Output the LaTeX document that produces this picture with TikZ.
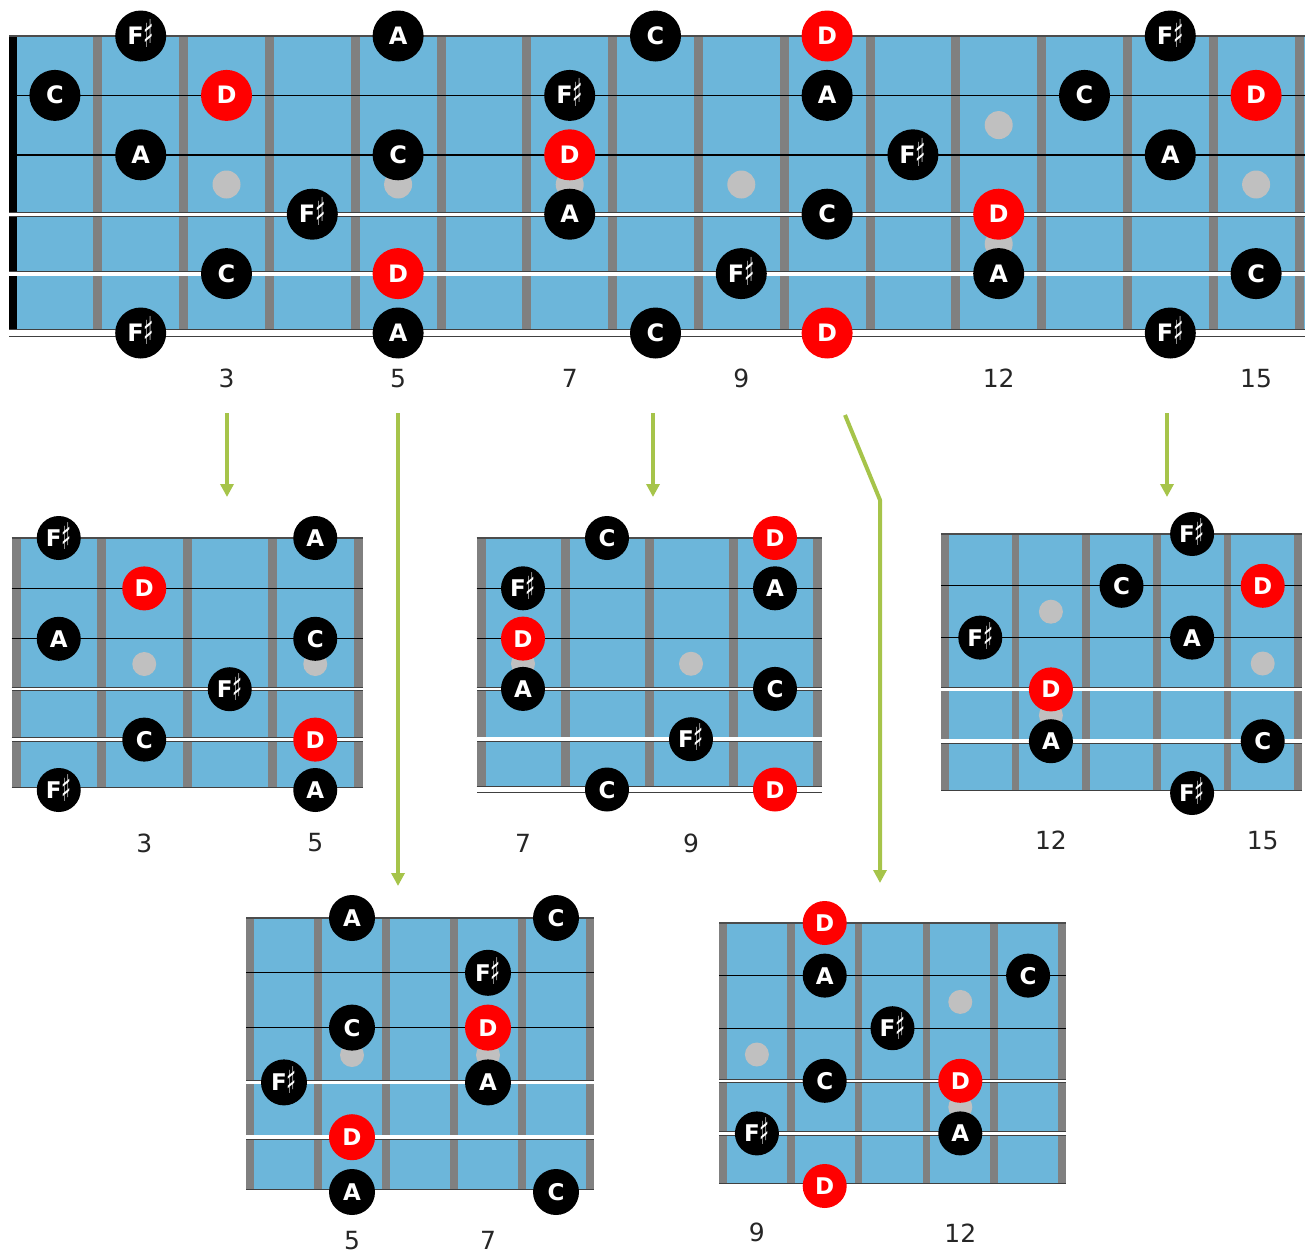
\documentclass[tikz,border=0pt]{standalone}
\usepackage{fontspec}
\setmainfont{DejaVu Sans}
\usetikzlibrary{arrows.meta}
\definecolor{NeckBlue}{RGB}{108, 182, 218}
\definecolor{FretGrey}{RGB}{128, 128, 128}
\definecolor{DotGrey}{RGB}{192, 192, 192}
\definecolor{RootRed}{RGB}{255, 0, 0}
\definecolor{ArrowGreen}{RGB}{166, 196, 74}
\newcommand{\notesharp}{\raisebox{-3pt}{\scalebox{0.9}[1.6]{♯}}}

\begin{document}
\begin{tikzpicture}[
    x=1pt, y=-1pt,
    note/.style={circle, fill=black, text=white, inner sep=0pt, minimum size=51pt, text height=17pt, text depth=0pt, font=\bfseries\fontsize{24}{24}\selectfont},
    root/.style={note, fill=RootRed},
    snote/.style={note, minimum size=44pt, font=\bfseries\fontsize{23}{23}\selectfont},
    sroot/.style={snote, fill=RootRed},
    fretnum/.style={font=\fontsize{25}{25}\selectfont, text=black!85},
    fretbar/.style={FretGrey, line width=9pt},
    plainstring/.style={line width=1.6pt},
    wound/.style={draw=black!75, double=white, line width=0.8pt},
    arrow/.style={->, >={Triangle[width=13pt, length=13pt]}, ArrowGreen, line width=4pt, line join=round}
]
\useasboundingbox (0,0) rectangle (1307,1254);

% === WHOLE NECK ===
\begin{scope}[shift={(12,36)}, x=85.8pt, y=-59.4pt]
\fill[NeckBlue] (0,0) rectangle ([xshift=6pt]15,5);
\foreach \k in {1,...,15} \draw[fretbar] (\k,0) -- (\k,5);
\foreach \f in {3,5,7,9,15} \fill[DotGrey] (\f-0.5,2.5) circle (14pt);
\fill[DotGrey] (11.5,1.5) circle (14pt) (11.5,3.5) circle (14pt);
\fill[black] ([xshift=-3pt]0,0.02) rectangle ([xshift=5pt]0,4.95);
\draw[plainstring, line width=2pt, black!70] ([xshift=-3pt]0,0) -- ([xshift=6pt]15,0);
\foreach \s in {1,2} \draw[plainstring] ([xshift=-3pt]0,\s) -- ([xshift=6pt]15,\s);
\foreach \s/\w in {3/3pt, 4/4pt, 5/5.5pt} \draw[wound, double distance=\w] ([xshift=-3pt]0,\s) -- ([xshift=6pt]15,\s);
\foreach \s/\f/\n/\st in {0/2/F\notesharp/note, 0/5/A/note, 0/8/C/note, 0/10/D/root, 0/14/F\notesharp/note,
    1/1/C/note, 1/3/D/root, 1/7/F\notesharp/note, 1/10/A/note, 1/13/C/note, 1/15/D/root,
    2/2/A/note, 2/5/C/note, 2/7/D/root, 2/11/F\notesharp/note, 2/14/A/note,
    3/4/F\notesharp/note, 3/7/A/note, 3/10/C/note, 3/12/D/root,
    4/3/C/note, 4/5/D/root, 4/9/F\notesharp/note, 4/12/A/note, 4/15/C/note,
    5/2/F\notesharp/note, 5/5/A/note, 5/8/C/note, 5/10/D/root, 5/14/F\notesharp/note}
    \node[\st] (T-\s-\f) at (\f-0.5,\s) {\n};
\foreach \f in {3,5,7,9,12,15} \node[fretnum] (T-n\f) at (\f-0.5,5.76) {\f};
\end{scope}

% === POSITION 2-5 ===
\begin{scope}[shift={(16,538)}, x=85.5pt, y=-50.4pt]
\fill[NeckBlue] (0,0) rectangle (4,5);
\foreach \k in {0,...,4} \draw[fretbar] (\k,0) -- (\k,5);
\foreach \f in {3,5} \fill[DotGrey] (\f-1.5,2.5) circle (12pt);
\draw[plainstring, black!70] ([xshift=-4.5pt]0,0) -- ([xshift=4.5pt]4,0);
\foreach \s in {1,2} \draw[plainstring, line width=1.3pt] ([xshift=-4.5pt]0,\s) -- ([xshift=4.5pt]4,\s);
\foreach \s/\w in {3/2.5pt, 4/3.5pt, 5/5pt} \draw[wound, double distance=\w] ([xshift=-4.5pt]0,\s) -- ([xshift=4.5pt]4,\s);
\foreach \s/\f/\n/\st in {0/2/F\notesharp/snote, 0/5/A/snote, 1/3/D/sroot, 2/2/A/snote, 2/5/C/snote,
    3/4/F\notesharp/snote, 4/3/C/snote, 4/5/D/sroot, 5/2/F\notesharp/snote, 5/5/A/snote}
    \node[\st] (A-\s-\f) at (\f-1.5,\s) {\n};
\foreach \f in {3,5} \node[fretnum] (A-n\f) at (\f-1.5,6.05) {\f};
\end{scope}

% === POSITION 7-10 ===
\begin{scope}[shift={(481,538)}, x=84pt, y=-50.3pt]
\fill[NeckBlue] (0,0) rectangle (4,5);
\foreach \k in {0,...,4} \draw[fretbar] (\k,0) -- (\k,5);
\foreach \f in {7,9} \fill[DotGrey] (\f-6.5,2.5) circle (12pt);
\draw[plainstring, black!70] ([xshift=-4.5pt]0,0) -- ([xshift=4.5pt]4,0);
\foreach \s in {1,2} \draw[plainstring, line width=1.3pt] ([xshift=-4.5pt]0,\s) -- ([xshift=4.5pt]4,\s);
\foreach \s/\w in {3/2.5pt, 4/3.5pt, 5/5pt} \draw[wound, double distance=\w] ([xshift=-4.5pt]0,\s) -- ([xshift=4.5pt]4,\s);
\foreach \s/\f/\n/\st in {0/8/C/snote, 0/10/D/sroot, 1/7/F\notesharp/snote, 1/10/A/snote, 2/7/D/sroot,
    3/7/A/snote, 3/10/C/snote, 4/9/F\notesharp/snote, 5/8/C/snote, 5/10/D/sroot}
    \node[\st] (B-\s-\f) at (\f-6.5,\s) {\n};
\foreach \f in {7,9} \node[fretnum] (B-n\f) at (\f-6.5,6.07) {\f};
\end{scope}

% === POSITION 11-15 ===
\begin{scope}[shift={(945,534)}, x=70.6pt, y=-51.8pt]
\fill[NeckBlue] (0,0) rectangle (5,5);
\foreach \k in {0,...,5} \draw[fretbar, line width=7.5pt] (\k,0) -- (\k,5);
\fill[DotGrey] (1.5,1.5) circle (12pt) (1.5,3.5) circle (12pt) (4.5,2.5) circle (12pt);
\draw[plainstring, black!70] ([xshift=-4pt]0,0) -- ([xshift=4pt]5,0);
\foreach \s in {1,2} \draw[plainstring, line width=1.3pt] ([xshift=-4pt]0,\s) -- ([xshift=4pt]5,\s);
\foreach \s/\w in {3/2.5pt, 4/3.5pt, 5/5pt} \draw[wound, double distance=\w] ([xshift=-4pt]0,\s) -- ([xshift=4pt]5,\s);
\foreach \s/\f/\n/\st in {0/14/F\notesharp/snote, 1/13/C/snote, 1/15/D/sroot, 2/11/F\notesharp/snote, 2/14/A/snote,
    3/12/D/sroot, 4/12/A/snote, 4/15/C/snote, 5/14/F\notesharp/snote}
    \node[\st] (C-\s-\f) at (\f-10.5,\s) {\n};
\foreach \f in {12,15} \node[fretnum] (C-n\f) at (\f-10.5,5.91) {\f};
\end{scope}

% === POSITION 4-8 ===
\begin{scope}[shift={(250,918)}, x=68pt, y=-54.8pt]
\fill[NeckBlue] (0,0) rectangle (5,5);
\foreach \k in {0,...,5} \draw[fretbar, line width=7.5pt] (\k,0) -- (\k,5);
\foreach \f in {5,7} \fill[DotGrey] (\f-3.5,2.5) circle (12pt);
\draw[plainstring, black!70] ([xshift=-4pt]0,0) -- ([xshift=4pt]5,0);
\foreach \s in {1,2} \draw[plainstring, line width=1.3pt] ([xshift=-4pt]0,\s) -- ([xshift=4pt]5,\s);
\foreach \s/\w in {3/2.5pt, 4/3.5pt, 5/5pt} \draw[wound, double distance=\w] ([xshift=-4pt]0,\s) -- ([xshift=4pt]5,\s);
\foreach \s/\f/\n/\st in {0/5/A/snote, 0/8/C/snote, 1/7/F\notesharp/snote, 2/5/C/snote, 2/7/D/sroot,
    3/4/F\notesharp/snote, 3/7/A/snote, 4/5/D/sroot, 5/5/A/snote, 5/8/C/snote}
    \node[\st, minimum size=46pt] (D-\s-\f) at (\f-3.5,\s) {\n};
\foreach \f in {5,7} \node[fretnum] (D-n\f) at (\f-3.5,5.88) {\f};
\end{scope}

% === POSITION 9-13 ===
\begin{scope}[shift={(723,923)}, x=67.8pt, y=-52.6pt]
\fill[NeckBlue] (0,0) rectangle (5,5);
\foreach \k in {0,...,5} \draw[fretbar, line width=7.5pt] (\k,0) -- (\k,5);
\fill[DotGrey] (0.5,2.5) circle (12pt) (3.5,1.5) circle (12pt) (3.5,3.5) circle (12pt);
\draw[plainstring, black!70] ([xshift=-4pt]0,0) -- ([xshift=4pt]5,0);
\foreach \s in {1,2} \draw[plainstring, line width=1.3pt] ([xshift=-4pt]0,\s) -- ([xshift=4pt]5,\s);
\foreach \s/\w in {3/2.5pt, 4/3.5pt, 5/5pt} \draw[wound, double distance=\w] ([xshift=-4pt]0,\s) -- ([xshift=4pt]5,\s);
\foreach \s/\f/\n/\st in {0/10/D/sroot, 1/10/A/snote, 1/13/C/snote, 2/11/F\notesharp/snote, 3/10/C/snote,
    3/12/D/sroot, 4/9/F\notesharp/snote, 4/12/A/snote, 5/10/D/sroot}
    \node[\st] (E-\s-\f) at (\f-8.5,\s) {\n};
\foreach \f in {9,12} \node[fretnum] (E-n\f) at (\f-8.5,5.89) {\f};
\end{scope}

% === ARROWS ===
\coordinate (from3) at (227,413);
\coordinate (to3) at (227,497);
\coordinate (from5) at (398,413);
\coordinate (to5) at (398,886);
\coordinate (from7) at (653,413);
\coordinate (to7) at (653,497);
\coordinate (from9) at (845,415);
\coordinate (kink9) at (880,500);
\coordinate (to9) at (880,883);
\coordinate (from15) at (1167,413);
\coordinate (to15) at (1167,497);

\draw[arrow] (from3) -- (to3);
\draw[arrow] (from5) -- (to5);
\draw[arrow] (from7) -- (to7);
\draw[arrow] (from9) -- (kink9) -- (to9);
\draw[arrow] (from15) -- (to15);

\end{tikzpicture}
\end{document}
